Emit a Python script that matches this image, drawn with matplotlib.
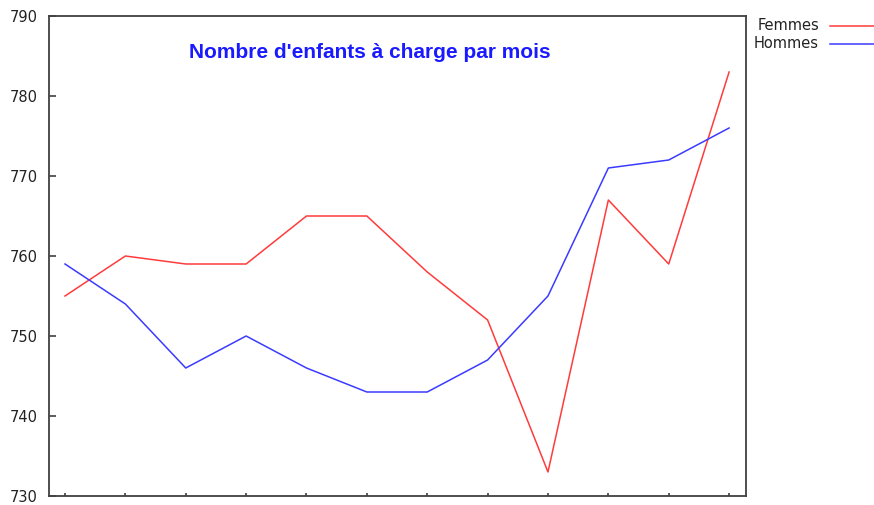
import matplotlib
matplotlib.use("Agg")
import matplotlib.pyplot as plt
from matplotlib.lines import Line2D

plt.rcParams['font.family'] = ['DejaVu Sans']

months = list(range(12))
femmes = [755, 760, 759, 759, 765, 765, 758, 752, 733, 767, 759, 783]
hommes = [759, 754, 746, 750, 746, 743, 743, 747, 755, 771, 772, 776]
yticks = [730, 740, 750, 760, 770, 780, 790]
title = "Nombre d'enfants à charge par mois"
labels = ["Femmes", "Hommes"]
red = "#ff3b3b"
blue = "#3b3bff"

fig = plt.figure(figsize=(8.74, 5.05), dpi=100)
ax = fig.add_axes([49/874, 9/505, (746-49)/874, (496-16)/505])
ax.plot(months, femmes, color=red, lw=1.1)
ax.plot(months, hommes, color=blue, lw=1.1)
ax.set_xlim(-0.265, 11.28)
ax.set_ylim(730, 790)
ax.set_yticks(yticks)
ax.set_xticks(months)
ax.set_xticklabels([])
ax.tick_params(axis='y', direction='in', length=5, width=1.2, color='#404040',
               labelsize=10.5, labelcolor='#222222', pad=8)
ax.tick_params(axis='x', direction='in', length=2.5, width=1.2, color='#404040')
for s in ax.spines.values():
    s.set_color('#404040')
    s.set_linewidth(1.3)
ax.text(0.46, 0.925, title, transform=ax.transAxes, ha='center', va='center',
        color='#1a1aff', fontsize=15, fontweight='bold', family='Liberation Sans')

for i, (lab, c) in enumerate(zip(labels, [red, blue])):
    y = 1 - (26 + 18*i)/505
    fig.text(819/874, y, lab, ha='right', va='center', fontsize=10.5, color='#222222')
    fig.add_artist(Line2D([830/874, 874/874], [y, y], color=c, lw=1.1,
                          transform=fig.transFigure))

fig.savefig("out.png", dpi=100)
